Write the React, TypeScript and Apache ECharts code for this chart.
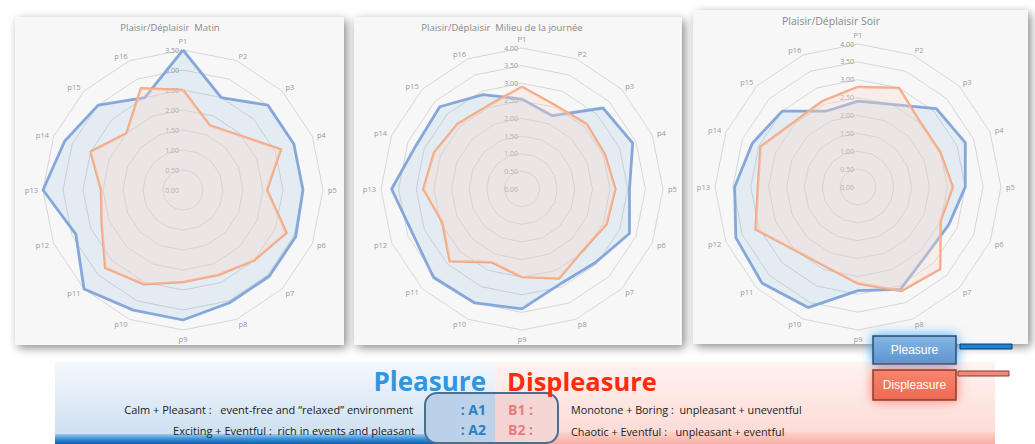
import React, { useEffect, useRef } from 'react';
import * as echarts from 'echarts';

const axisNames = ['P1', 'P2', 'p3', 'p4', 'p5', 'p6', 'p7', 'p8', 'p9', 'p10', 'p11', 'p12', 'p13', 'p14', 'p15', 'p16'];

const matinPleasure = [3.5, 2.5, 3.0, 3.0, 3.0, 3.05, 3.05, 3.05, 3.25, 3.25, 3.5, 2.9, 3.5, 3.2, 3.0, 2.5];
const matinDispleasure = [2.5, 1.75, 1.95, 2.65, 2.1, 2.8, 2.5, 2.3, 2.3, 2.55, 2.75, 2.2, 2.05, 2.5, 2.0, 2.75];
const midiPleasure = [2.55, 2.25, 3.25, 3.4, 3.05, 3.3, 2.95, 2.9, 3.4, 3.5, 3.55, 3.35, 3.7, 3.25, 3.3, 2.9];
const midiDispleasure = [2.9, 2.55, 2.6, 2.55, 2.65, 2.6, 2.45, 2.75, 2.5, 2.25, 2.9, 2.45, 2.8, 2.7, 2.6, 2.55];
const soirPleasure = [2.4, 2.5, 3.1, 3.25, 3.0, 2.75, 2.7, 3.1, 2.9, 3.65, 3.8, 3.7, 3.45, 3.2, 3.0, 2.3];
const soirDispleasure = [2.8, 3.0, 2.5, 2.5, 2.65, 2.5, 3.25, 3.15, 2.7, 2.4, 2.5, 3.1, 2.8, 2.95, 2.55, 2.6];

const chartTitles = ['Plaisir/Déplaisir  Matin', 'Plaisir/Déplaisir  Milieu de la journée', 'Plaisir/Déplaisir Soir'];
const axisMax = [3.5, 4, 4];
const splitCounts = [7, 8, 8];
const seriesNames = ['Pleasure', 'Displeasure'];

const pleasureSets = [matinPleasure, midiPleasure, soirPleasure];
const displeasureSets = [matinDispleasure, midiDispleasure, soirDispleasure];

// ECharts radar goes counter-clockwise; reorder so P1..p16 run clockwise
const ccw = <T,>(arr: T[]): T[] => [arr[0], ...arr.slice(1).reverse()];

const centers = [[183, 190], [522, 189], [858, 187]];
const radii = [140, 141, 143];
const panels = [
  { x: 15, y: 17, w: 329, h: 328 },
  { x: 354, y: 17, w: 328, h: 328 },
  { x: 693, y: 10, w: 335, h: 334 },
];
const titlePos = [[170, 27], [502, 27], [831, 21]];

const FONT = 'Open Sans';
const LABEL_GRAY = '#9b9b9b';

function buildOption() {
  const graphics: any[] = [];
  panels.forEach((p) => {
    graphics.push({
      type: 'rect', z: -10,
      shape: { x: p.x, y: p.y, width: p.w, height: p.h },
      style: { fill: '#f7f7f7', shadowBlur: 10, shadowOffsetX: 3, shadowOffsetY: 3, shadowColor: 'rgba(0,0,0,0.45)' },
    });
  });
  chartTitles.forEach((t, i) => {
    graphics.push({
      type: 'text', z: 50, x: titlePos[i][0], y: titlePos[i][1],
      style: {
        text: t, fill: '#8a8a8a', font: `${i === 2 ? 10.5 : 9.5}px "${FONT}"`,
        align: 'center', verticalAlign: 'middle', textAlign: 'center', textVerticalAlign: 'middle',
      },
    });
  });
  graphics.push({
    type: 'rect', z: -5, shape: { x: 55, y: 362, width: 440, height: 82 },
    style: { fill: { type: 'linear', x: 0, y: 0, x2: 0, y2: 1, colorStops: [{ offset: 0, color: '#f4f8fc' }, { offset: 0.85, color: '#cfe1f2' }, { offset: 1, color: '#c5dbef' }] } },
  });
  graphics.push({
    type: 'rect', z: -4, shape: { x: 55, y: 434, width: 440, height: 10 },
    style: { fill: { type: 'linear', x: 0, y: 0, x2: 0, y2: 1, colorStops: [{ offset: 0, color: '#9ccaee' }, { offset: 0.5, color: '#3a90d6' }, { offset: 1, color: '#0b5fae' }] } },
  });
  graphics.push({
    type: 'rect', z: -5, shape: { x: 495, y: 362, width: 500, height: 82 },
    style: { fill: { type: 'linear', x: 0, y: 0, x2: 0, y2: 1, colorStops: [{ offset: 0, color: '#fff3f1' }, { offset: 0.85, color: '#fcdcd7' }, { offset: 1, color: '#fbd3cd' }] } },
  });
  graphics.push({
    type: 'rect', z: -4, shape: { x: 495, y: 432, width: 500, height: 12 },
    style: { fill: { type: 'linear', x: 0, y: 0, x2: 0, y2: 1, colorStops: [{ offset: 0, color: '#fcd4cd' }, { offset: 1, color: '#f8aea3' }] } },
  });
  graphics.push({
    type: 'rect', z: 40, shape: { x: 425, y: 393, width: 133, height: 50, r: 12 },
    style: {
      fill: { type: 'linear', x: 0, y: 0, x2: 1, y2: 0, colorStops: [{ offset: 0, color: '#b9d0e8' }, { offset: 0.526, color: '#bcd3ea' }, { offset: 0.526, color: '#f4d2d2' }, { offset: 1, color: '#f6d6d6' }] },
      stroke: '#4d6f8e', lineWidth: 2,
    },
  });
  const txt = (text: string, x: number, y: number, size: number, color: string, align: string, weight = 'normal', family = FONT) => ({
    type: 'text', z: 90, x, y,
    style: {
      text, fill: color, font: `${weight} ${size}px "${family}"`,
      align, verticalAlign: 'middle', textAlign: align, textVerticalAlign: 'middle',
    },
  });
  graphics.push(txt('Pleasure', 486, 381, 26, '#2f97de', 'right', 'bold'));
  graphics.push(txt('Displeasure', 507, 381, 25.5, '#ff2b0c', 'left', 'bold'));
  graphics.push(txt(': A1', 486, 409, 14, '#2d80c4', 'right', 'bold'));
  graphics.push(txt(': A2', 486, 429, 14, '#2d80c4', 'right', 'bold'));
  graphics.push(txt('B1 :', 508, 409, 14, '#e97b7b', 'left', 'bold'));
  graphics.push(txt('B2 :', 508, 429, 14, '#e97b7b', 'left', 'bold'));
  graphics.push(txt('Calm + Pleasant :   event-free and \u201crelaxed\u201d environment', 413, 409, 11, '#222', 'right'));
  graphics.push(txt('Exciting + Eventful :  rich in events and pleasant', 415, 430, 11, '#222', 'right'));
  graphics.push(txt('Monotone + Boring :  unpleasant + uneventful', 571, 409, 10.8, '#222', 'left'));
  graphics.push(txt('Chaotic + Eventful :   unpleasant + eventful', 571, 431, 10.8, '#222', 'left'));
  graphics.push({
    type: 'rect', z: 70, shape: { x: 873, y: 336, width: 83, height: 28 },
    style: {
      fill: { type: 'linear', x: 0, y: 0, x2: 0, y2: 1, colorStops: [{ offset: 0, color: '#86b7e6' }, { offset: 1, color: '#5a95d2' }] },
      stroke: '#2c4a68', lineWidth: 1.5, shadowBlur: 12, shadowColor: 'rgba(40,160,255,0.9)',
    },
  });
  graphics.push(txt(seriesNames[0], 914.5, 350, 12, '#ffffff', 'center', 'normal', 'Liberation Sans'));
  graphics.push({
    type: 'rect', z: 70, shape: { x: 960, y: 344, width: 52, height: 5 },
    style: { fill: '#1c82d4', stroke: '#0e3a62', lineWidth: 1 },
  });
  graphics.push({
    type: 'rect', z: 70, shape: { x: 873, y: 370, width: 83, height: 30 },
    style: {
      fill: { type: 'linear', x: 0, y: 0, x2: 0, y2: 1, colorStops: [{ offset: 0, color: '#f8846e' }, { offset: 1, color: '#ef6a52' }] },
      stroke: '#8b3b2c', lineWidth: 1.5, shadowBlur: 12, shadowColor: 'rgba(255,110,90,0.9)',
    },
  });
  graphics.push(txt(seriesNames[1], 914.5, 385, 12, '#ffffff', 'center', 'normal', 'Liberation Sans'));
  graphics.push({
    type: 'rect', z: 70, shape: { x: 958, y: 371, width: 51, height: 5 },
    style: { fill: '#f08a78', stroke: '#8b3b2c', lineWidth: 1 },
  });

  return {
    animation: false,
    backgroundColor: '#ffffff',
    radar: [0, 1, 2].map((i) => ({
      center: centers[i],
      radius: radii[i],
      startAngle: 90,
      shape: 'polygon',
      splitNumber: splitCounts[i],
      indicator: ccw(axisNames).map((n, k) => {
        const ind: any = { name: n, min: 0, max: axisMax[i], color: LABEL_GRAY };
        if (k === 0) ind.axisLabel = { show: true };
        return ind;
      }),
      axisName: { color: LABEL_GRAY, fontSize: 7.5, fontFamily: FONT },
      nameGap: 5,
      axisLine: { show: false },
      axisTick: { show: false },
      splitLine: { lineStyle: { color: '#d7d7d7', width: 1 } },
      splitArea: { show: false },
      axisLabel: {
        show: false, color: LABEL_GRAY, fontSize: 7, fontFamily: FONT, margin: 4,
        formatter: (v: number) => Number(v).toFixed(2),
      },
    })),
    graphic: { elements: graphics },
    series: [0, 1, 2].map((i) => ({
      type: 'radar',
      radarIndex: i,
      symbol: 'none',
      data: [
        {
          name: seriesNames[0], value: ccw(pleasureSets[i]),
          lineStyle: { color: '#89a9db', width: 2.8 },
          itemStyle: { color: '#89a9db' },
          areaStyle: { color: 'rgba(91,155,213,0.18)' },
        },
        {
          name: seriesNames[1], value: ccw(displeasureSets[i]),
          lineStyle: { color: '#f4a882', width: 2.5 },
          itemStyle: { color: '#f4a882' },
          areaStyle: { color: 'rgba(249,217,204,0.5)' },
        },
      ],
    })),
  };
}

export default function App() {
  const ref = useRef<HTMLDivElement>(null);
  useEffect(() => {
    const chart = echarts.init(ref.current!, null, { renderer: 'svg' });
    chart.setOption(buildOption() as any);
    return () => chart.dispose();
  }, []);
  return (
    <div
      ref={ref}
      style={{ position: 'fixed', left: 0, top: 0, width: 1035, height: 444, background: '#fff' }}
    />
  );
}
